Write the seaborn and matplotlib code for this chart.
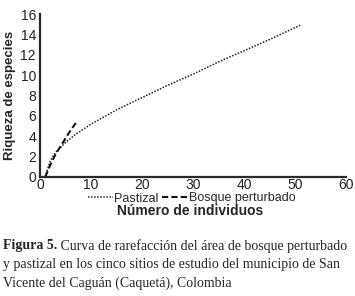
import numpy as np
import pandas as pd
import matplotlib
matplotlib.use("Agg")
import matplotlib.pyplot as plt
import seaborn as sns

# rarefaction curves
pastizal_n = [1, 2, 3, 5, 7, 10, 15, 20, 25, 30, 35, 40, 45, 51]
pastizal_s = [0, 1.6, 2.4, 3.4, 4.2, 5.2, 6.6, 7.8, 9.0, 10.1, 11.3, 12.4, 13.5, 14.9]
bosque_n = [1, 2, 3, 4, 5, 6, 7]
bosque_s = [0, 1.2, 2.2, 3.0, 3.8, 4.6, 5.3]

x_ticks = [0, 10, 20, 30, 40, 50, 60]
y_ticks = [0, 2, 4, 6, 8, 10, 12, 14, 16]

caption_bold = "Figura 5."
caption_lines = [
    " Curva de rarefacción del área de bosque perturbado",
    "y pastizal en los cinco sitios de estudio del municipio de San",
    "Vicente del Caguán (Caquetá), Colombia",
]

df = pd.concat([
    pd.DataFrame({"n": pastizal_n, "s": pastizal_s, "serie": "Pastizal"}),
    pd.DataFrame({"n": bosque_n, "s": bosque_s, "serie": "Bosque perturbado"}),
])

sns.set_style("white")
plt.rcParams['font.family'] = ['Liberation Sans', 'DejaVu Sans']

fig = plt.figure(figsize=(3.55, 2.96), dpi=100)
ax = fig.add_axes([0.113, 1 - 177 / 296, 0.862, 163 / 296])

sns.lineplot(data=df, x="n", y="s", hue="serie", style="serie",
             palette={"Pastizal": "#222222", "Bosque perturbado": "#111111"},
             dashes={"Pastizal": (1, 1), "Bosque perturbado": (3, 1.5)},
             linewidth=1.1, ax=ax, legend=False)
ax.lines[1].set_linewidth(1.5)

ax.set_xlim(0, 60)
ax.set_ylim(0, 16)
ax.set_xticks(x_ticks)
ax.set_yticks(y_ticks)
ax.tick_params(length=0, labelsize=10, colors="#222222")
ax.tick_params(axis="x", pad=1)
ax.tick_params(axis="y", pad=3)
for s in ["top", "right"]:
    ax.spines[s].set_visible(False)
for s in ["left", "bottom"]:
    ax.spines[s].set_linewidth(1.6)
    ax.spines[s].set_color("#2a2a2a")

ax.set_xlabel("Número de individuos", fontsize=10, fontweight="bold", va="center")
ax.xaxis.set_label_coords(0.49, -(211 - 177) / 163)
ax.set_ylabel("Riqueza de especies", fontsize=9.5, fontweight="bold", labelpad=3)

fig.legend(handles=ax.lines, labels=["Pastizal", "Bosque perturbado"],
           loc="center", bbox_to_anchor=(0.54, 1 - 198.5 / 296), ncol=2, frameon=False,
           fontsize=9, handlelength=2.0, handletextpad=0.1, columnspacing=0.3,
           borderpad=0, borderaxespad=0)

# caption
serif = ['Liberation Serif', 'DejaVu Serif']
x0, y0, dy = 0.008, 1 - 246 / 296, 18.5 / 296
t = fig.text(x0, y0, caption_bold, family=serif, fontweight="bold", fontsize=10, va="center")
r = fig.canvas.get_renderer()
w = t.get_window_extent(r).width / fig.bbox.width
fig.text(x0 + w, y0, caption_lines[0], family=serif, fontsize=10, va="center")
fig.text(x0, y0 - dy, caption_lines[1], family=serif, fontsize=10, va="center")
fig.text(x0, y0 - 2 * dy, caption_lines[2], family=serif, fontsize=10, va="center")

fig.savefig("out.png", dpi=100)
